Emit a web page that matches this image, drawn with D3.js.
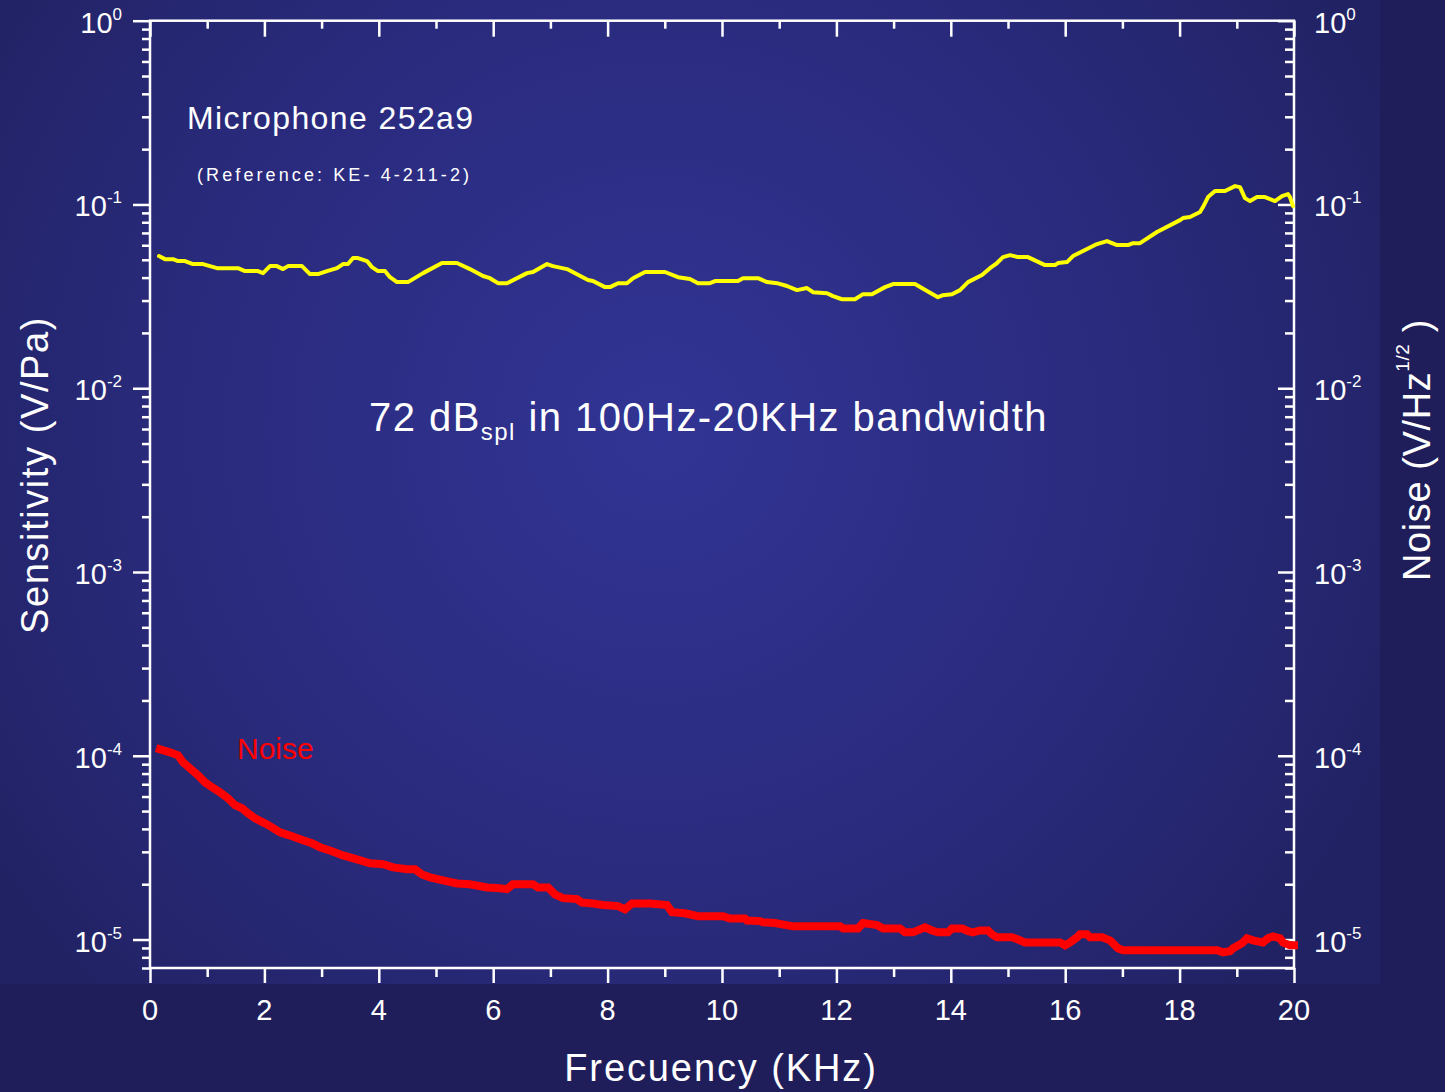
<!DOCTYPE html>
<html>
<head>
<meta charset="utf-8">
<script src="https://cdn.jsdelivr.net/npm/d3@7"></script>
<style>
  html, body { margin: 0; padding: 0; background: #1e1d5a; }
  svg { display: block; font-family: "Liberation Sans", Arial, sans-serif; }
</style>
</head>
<body>
<script>
// ---------------- DATA ----------------
const xTickValues = [0, 2, 4, 6, 8, 10, 12, 14, 16, 18, 20];
const xMinorValues = [1, 3, 5, 7, 9, 11, 13, 15, 17, 19];
const yExponents = [0, -1, -2, -3, -4, -5];

// Sensitivity (yellow), frequency in KHz, value in V/Pa
const sensFreq = [0.157,0.262,0.402,0.490,0.612,0.752,0.927,1.171,1.538,1.661,1.888,1.976,2.098,2.220,2.325,2.413,2.657,2.797,2.937,3.094,3.269,3.374,3.462,3.549,3.636,3.794,3.881,3.986,4.108,4.196,4.318,4.510,4.773,5.105,5.367,5.594,5.822,5.944,6.084,6.241,6.591,6.696,6.941,7.045,7.290,7.657,7.745,7.955,8.042,8.182,8.339,8.444,8.654,9.003,9.231,9.441,9.580,9.790,9.878,10.280,10.367,10.629,10.787,10.962,11.136,11.311,11.486,11.591,11.836,11.941,12.098,12.325,12.465,12.622,12.850,12.990,13.374,13.584,13.776,13.864,14.021,14.161,14.301,14.545,14.685,14.808,14.913,15.035,15.175,15.350,15.647,15.822,15.874,16.031,16.136,16.486,16.556,16.731,16.906,17.098,17.185,17.308,17.605,18.007,18.059,18.182,18.357,18.409,18.497,18.619,18.794,18.969,19.056,19.143,19.231,19.353,19.493,19.668,19.790,19.895,19.930,19.983];
const sensValue = [0.0524,0.0504,0.0504,0.0492,0.0492,0.0474,0.0474,0.0450,0.0450,0.0434,0.0434,0.0423,0.0462,0.0462,0.0445,0.0462,0.0462,0.0418,0.0418,0.0434,0.0450,0.0474,0.0474,0.0511,0.0511,0.0492,0.0456,0.0434,0.0434,0.0402,0.0378,0.0378,0.0423,0.0480,0.0480,0.0445,0.0408,0.0397,0.0373,0.0373,0.0423,0.0429,0.0474,0.0462,0.0445,0.0388,0.0383,0.0355,0.0355,0.0373,0.0373,0.0397,0.0429,0.0429,0.0402,0.0393,0.0373,0.0373,0.0383,0.0383,0.0397,0.0397,0.0378,0.0373,0.0360,0.0342,0.0351,0.0333,0.0329,0.0317,0.0305,0.0305,0.0325,0.0325,0.0355,0.0369,0.0369,0.0338,0.0313,0.0321,0.0325,0.0342,0.0378,0.0413,0.0450,0.0480,0.0517,0.0530,0.0517,0.0517,0.0468,0.0468,0.0480,0.0486,0.0524,0.0594,0.0609,0.0632,0.0601,0.0601,0.0616,0.0616,0.0708,0.0822,0.0843,0.0854,0.0909,0.0968,0.1097,0.1183,0.1183,0.1259,0.1243,0.1083,0.1043,0.1097,0.1097,0.1043,0.1111,0.1139,0.1097,0.0980];

// Noise (red), frequency in KHz, value in V/Hz^1/2
const noiseFreq = [0.175,0.350,0.490,0.577,0.699,0.839,0.962,1.084,1.224,1.364,1.486,1.608,1.713,1.836,2.010,2.133,2.273,2.483,2.675,2.832,2.972,3.182,3.374,3.619,3.846,4.073,4.248,4.493,4.633,4.755,4.895,5.122,5.367,5.594,5.892,6.119,6.241,6.346,6.696,6.783,6.958,7.080,7.220,7.465,7.552,7.745,7.920,8.182,8.304,8.427,8.741,9.038,9.126,9.353,9.580,10.017,10.140,10.402,10.437,10.664,10.717,10.927,11.241,12.063,12.115,12.378,12.465,12.710,12.815,13.112,13.199,13.339,13.549,13.671,13.776,13.951,14.021,14.196,14.301,14.388,14.510,14.650,14.720,14.808,15.070,15.175,15.297,15.909,15.997,16.084,16.206,16.259,16.381,16.434,16.643,16.783,16.836,16.923,17.010,18.654,18.759,18.881,18.934,19.091,19.178,19.283,19.458,19.545,19.633,19.755,19.808,19.930,20.0];
const noiseValue = [1.085e-4,1.044e-4,1.006e-4,9.22e-5,8.55e-5,7.83e-5,7.17e-5,6.74e-5,6.33e-5,5.87e-5,5.38e-5,5.18e-5,4.86e-5,4.57e-5,4.29e-5,4.08e-5,3.83e-5,3.65e-5,3.47e-5,3.34e-5,3.18e-5,3.02e-5,2.87e-5,2.73e-5,2.60e-5,2.57e-5,2.47e-5,2.41e-5,2.41e-5,2.26e-5,2.18e-5,2.10e-5,2.02e-5,2.00e-5,1.92e-5,1.90e-5,1.88e-5,2.00e-5,2.00e-5,1.92e-5,1.92e-5,1.76e-5,1.68e-5,1.66e-5,1.59e-5,1.57e-5,1.54e-5,1.52e-5,1.46e-5,1.57e-5,1.57e-5,1.54e-5,1.41e-5,1.39e-5,1.34e-5,1.34e-5,1.30e-5,1.30e-5,1.27e-5,1.26e-5,1.24e-5,1.23e-5,1.18e-5,1.18e-5,1.15e-5,1.15e-5,1.23e-5,1.20e-5,1.15e-5,1.15e-5,1.094e-5,1.094e-5,1.165e-5,1.12e-5,1.094e-5,1.094e-5,1.15e-5,1.15e-5,1.11e-5,1.094e-5,1.12e-5,1.12e-5,1.067e-5,1.028e-5,1.028e-5,1.0e-5,9.65e-6,9.65e-6,9.30e-6,9.65e-6,1.028e-5,1.067e-5,1.067e-5,1.028e-5,1.028e-5,9.90e-6,9.53e-6,8.96e-6,8.74e-6,8.74e-6,8.52e-6,8.63e-6,8.96e-6,9.53e-6,1.015e-5,9.90e-6,9.65e-6,1.015e-5,1.04e-5,1.015e-5,9.65e-6,9.30e-6,9.30e-6];

// ---------------- LAYOUT ----------------
const W = 1445, H = 1092;
const L = 150, R = 1294, T = 20.7, B = 968;

const svg = d3.select("body").append("svg").attr("width", W).attr("height", H);
const defs = svg.append("defs");
const grad = defs.append("radialGradient").attr("id", "bg")
  .attr("gradientUnits", "userSpaceOnUse")
  .attr("cx", 660).attr("cy", 430).attr("r", 820);
grad.append("stop").attr("offset", "0").attr("stop-color", "#313494");
grad.append("stop").attr("offset", "0.55").attr("stop-color", "#2a2b7e");
grad.append("stop").attr("offset", "1").attr("stop-color", "#212263");

svg.append("rect").attr("width", W).attr("height", H).attr("fill", "#1f1e5b");
svg.append("rect").attr("x", 0).attr("y", 0).attr("width", 1380).attr("height", 984).attr("fill", "url(#bg)");

const x = d3.scaleLinear().domain([0, 20]).range([L, R]);
const y = d3.scaleLog().domain([7e-6, 1]).range([B, T]);

const majorY = yExponents.map(e => Math.pow(10, e));
const minorY = [];
for (let e = -6; e < 0; e++) for (let m = 2; m <= 9; m++) {
  const v = m * Math.pow(10, e);
  if (v >= 7e-6 && v < 1) minorY.push(v);
}

function styleAxis(g) {
  g.select(".domain").remove();
  g.selectAll("line").attr("stroke", "#fff").attr("stroke-width", 2.5);
  g.selectAll("text").remove();
}

// bottom
svg.append("g").attr("transform", `translate(0,${B})`).call(d3.axisBottom(x).tickValues(xTickValues).tickSize(15)).call(styleAxis);
svg.append("g").attr("transform", `translate(0,${B})`).call(d3.axisBottom(x).tickValues(xMinorValues).tickSize(9)).call(styleAxis);
// top (inward)
svg.append("g").attr("transform", `translate(0,${T})`).call(d3.axisTop(x).tickValues(xTickValues).tickSize(-16)).call(styleAxis);
svg.append("g").attr("transform", `translate(0,${T})`).call(d3.axisTop(x).tickValues(xMinorValues).tickSize(-8)).call(styleAxis);
// left (outward)
svg.append("g").attr("transform", `translate(${L},0)`).call(d3.axisLeft(y).tickValues(majorY).tickSize(17)).call(styleAxis);
svg.append("g").attr("transform", `translate(${L},0)`).call(d3.axisLeft(y).tickValues(minorY).tickSize(8)).call(styleAxis);
// right (inward)
svg.append("g").attr("transform", `translate(${R},0)`).call(d3.axisRight(y).tickValues(majorY).tickSize(-16)).call(styleAxis);
svg.append("g").attr("transform", `translate(${R},0)`).call(d3.axisRight(y).tickValues(minorY).tickSize(-9)).call(styleAxis);

// frame
svg.append("rect").attr("x", L).attr("y", T).attr("width", R - L).attr("height", B - T)
  .attr("fill", "none").attr("stroke", "#fff").attr("stroke-width", 2.5);

// x tick labels
svg.append("g").selectAll("text").data(xTickValues).join("text")
  .attr("x", d => x(d)).attr("y", 1020).attr("text-anchor", "middle")
  .attr("fill", "#fff").attr("font-size", 29).text(d => d);

// y tick labels
function yLabel(g, anchor, xpos) {
  const t = g.selectAll("text").data(yExponents).join("text")
    .attr("x", xpos).attr("y", e => y(Math.pow(10, e)) + 12)
    .attr("text-anchor", anchor).attr("fill", "#fff").attr("font-size", 29);
  t.append("tspan").text("10");
  t.append("tspan").attr("font-size", 17).attr("dy", -13).text(e => e);
}
yLabel(svg.append("g"), "end", 122);
yLabel(svg.append("g"), "start", 1314);

// lines
const sens = sensFreq.map((f, i) => [f, sensValue[i]]);
const noise = noiseFreq.map((f, i) => [f, noiseValue[i]]);
const line = d3.line().x(d => x(d[0])).y(d => y(d[1]));

svg.append("path").attr("d", line(noise)).attr("fill", "none")
  .attr("stroke", "#ff0000").attr("stroke-width", 8).attr("stroke-linecap", "square").attr("stroke-linejoin", "miter");
svg.append("path").attr("d", line(sens)).attr("fill", "none")
  .attr("stroke", "#ffff00").attr("stroke-width", 4).attr("stroke-linecap", "round").attr("stroke-linejoin", "round");

// annotations
svg.append("text").attr("x", 187).attr("y", 129).attr("fill", "#fff").attr("font-size", 32)
  .attr("letter-spacing", 1.4).text("Microphone 252a9");
svg.append("text").attr("x", 197).attr("y", 181).attr("fill", "#fff").attr("font-size", 18)
  .attr("letter-spacing", 3.1).text("(Reference: KE- 4-211-2)");

const big = svg.append("text").attr("x", 369).attr("y", 431).attr("fill", "#fff").attr("font-size", 40).attr("letter-spacing", 1.45);
big.append("tspan").text("72 dB");
big.append("tspan").attr("font-size", 24).attr("dy", 9).text("spl");
big.append("tspan").attr("dy", -9).text(" in 100Hz-20KHz bandwidth");

svg.append("text").attr("x", 237).attr("y", 759).attr("fill", "#ff0000").attr("font-size", 30).text("Noise");

// axis titles
svg.append("text").attr("transform", "translate(48,475) rotate(-90)").attr("text-anchor", "middle")
  .attr("fill", "#fff").attr("font-size", 38).attr("letter-spacing", 1.6).text("Sensitivity (V/Pa)");
svg.append("text").attr("x", 721).attr("y", 1081).attr("text-anchor", "middle")
  .attr("fill", "#fff").attr("font-size", 38).attr("letter-spacing", 1.9).text("Frecuency (KHz)");
const rt = svg.append("text").attr("transform", "translate(1430,450) rotate(-90)").attr("text-anchor", "middle")
  .attr("fill", "#fff").attr("font-size", 38).attr("letter-spacing", 0.6);
rt.append("tspan").text("Noise (V/Hz");
rt.append("tspan").attr("font-size", 19).attr("dy", -21).text("1/2");
rt.append("tspan").attr("dy", 21).text(" )");
</script>
</body>
</html>
